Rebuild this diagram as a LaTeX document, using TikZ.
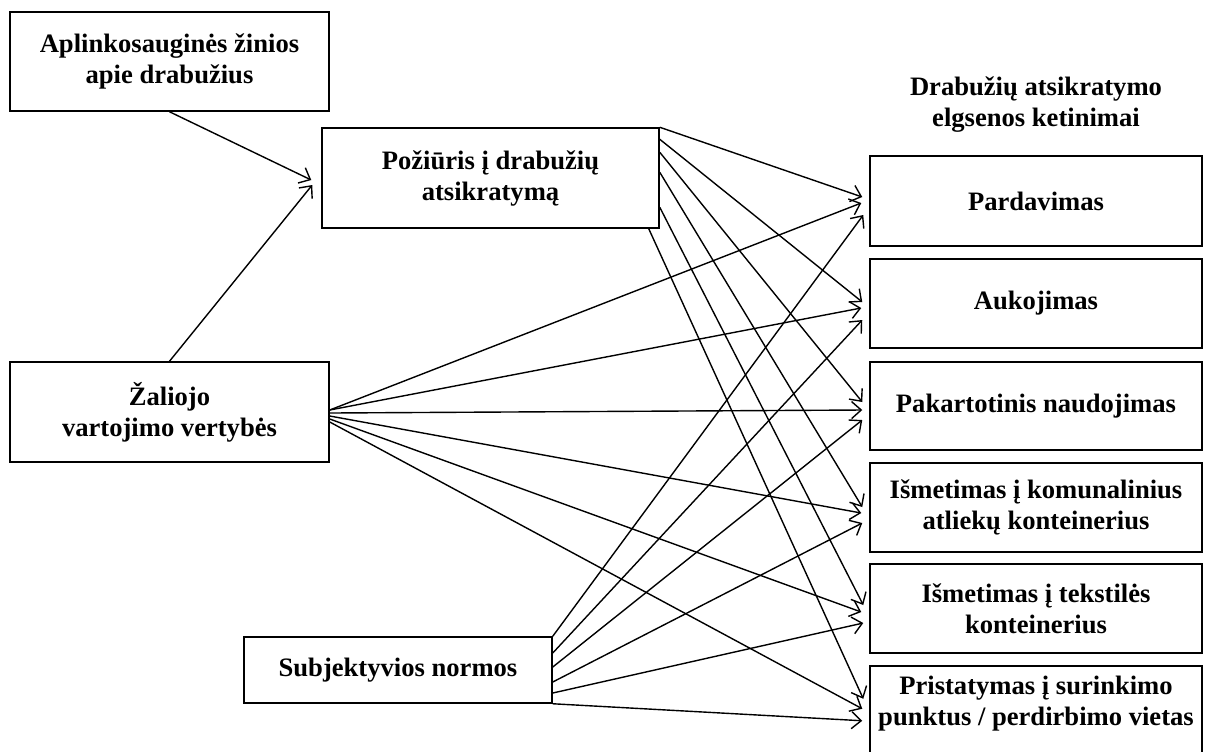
\documentclass[tikz,border=0pt]{standalone}
\usepackage{fontspec}
\setmainfont{Liberation Serif}
\usetikzlibrary{arrows.meta,calc}
\begin{document}
\begin{tikzpicture}[x=0.5pt,y=-0.5pt,
  lbl/.style={align=center, inner sep=0pt, font=\fontsize{13.3}{15.5}\selectfont\bfseries},
  box/.style={lbl, draw, line width=0.75pt},
  target/.style={box, minimum width=166pt},
  link/.style={line width=0.7pt, -{Straight Barb[length=4.8pt,width=8.5pt,line width=0.7pt]}}]
\useasboundingbox (0,0) rectangle (1208,751);

% predictors
\node[box, minimum width=159.5pt, minimum height=49.5pt] (A) at (169.5,61.5) {Aplinkosauginės žinios\\apie drabužius};
\node[box, minimum width=168.5pt, minimum height=50pt] (P) at (490.5,178) {Požiūris į drabužių\\atsikratymą};
\node[box, minimum width=159.5pt, minimum height=50pt] (Z) at (169.5,412) {Žaliojo\\vartojimo vertybės};
\node[box, minimum width=154pt, minimum height=33pt] (S) at (398,670) {Subjektyvios normos};

% intentions
\node[lbl] (H) at (1036,105) {Drabužių atsikratymo\\elgsenos ketinimai};
\node[target, minimum height=45pt] (T1) at (1036,201) {Pardavimas};
\node[target, minimum height=44.5pt] (T2) at (1036,303.5) {Aukojimas};
\node[target, minimum height=44pt] (T3) at (1036,406) {Pakartotinis naudojimas};
\node[target, minimum height=44.5pt] (T4) at (1036,507.5) {Išmetimas į komunalinius\\atliekų konteinerius};
\node[target, minimum height=44.5pt] (T5) at (1036,608.5) {Išmetimas į tekstilės\\konteinerius};
\node[target, minimum height=50pt, anchor=north] (T6) at (1036,665) {};
\node[lbl] (T6t) at (1036,704) {Pristatymas į surinkimo\\punktus / perdirbimo vietas};

% into the attitude
\draw[link] (A.south) -- ($(P.west)+(-10,2)$);
\draw[link] (Z.north) -- ($(P.west)+(-9,7)$);

% attitude -> intentions
\draw[link] (P.north east) -- ($(T1.west)+(-7,-4)$);
\draw[link] ($(P.north east)+(0,12)$) -- ($(T2.west)+(-7,-1.5)$);
\draw[link] ($(P.north east)+(0,25)$) -- ($(T3.west)+(-7,-4)$);
\draw[link] ($(P.north east)+(0,45)$) -- ($(T4.west)+(-7,-0.5)$);
\draw[link] ($(P.north east)+(0,80)$) -- ($(T5.west)+(-6,-3.5)$);
\draw[link] ($(P.south east)+(-11,0)$) -- ($(T6.west)+(-6,-17)$);

% values -> intentions
\draw[link] ($(Z.east)+(0,-2)$) -- ($(T1.west)+(-8,2)$);
\draw[link] ($(Z.east)+(0,-2)$) -- ($(T2.west)+(-8,4.5)$);
\draw[link] ($(Z.east)+(0,1)$) -- ($(T3.west)+(-7,4)$);
\draw[link] ($(Z.east)+(0,4)$) -- ($(T4.west)+(-8,5.5)$);
\draw[link] ($(Z.east)+(0,7)$) -- ($(T5.west)+(-8,3.5)$);
\draw[link] ($(Z.east)+(0,10)$) -- ($(T6.west)+(-7,-7)$);

% norms -> intentions
\draw[link] (S.north east) -- ($(T1.west)+(-6,14)$);
\draw[link] ($(S.east)+(0,-17)$) -- ($(T2.west)+(-7,16.5)$);
\draw[link] ($(S.east)+(0,-3)$) -- ($(T3.west)+(-7,14)$);
\draw[link] ($(S.east)+(0,12)$) -- ($(T4.west)+(-7,15.5)$);
\draw[link] ($(S.east)+(0,23)$) -- ($(T5.west)+(-6,14.5)$);
\draw[link] (S.south east) -- ($(T6.west)+(-7,5)$);
\end{tikzpicture}
\end{document}
